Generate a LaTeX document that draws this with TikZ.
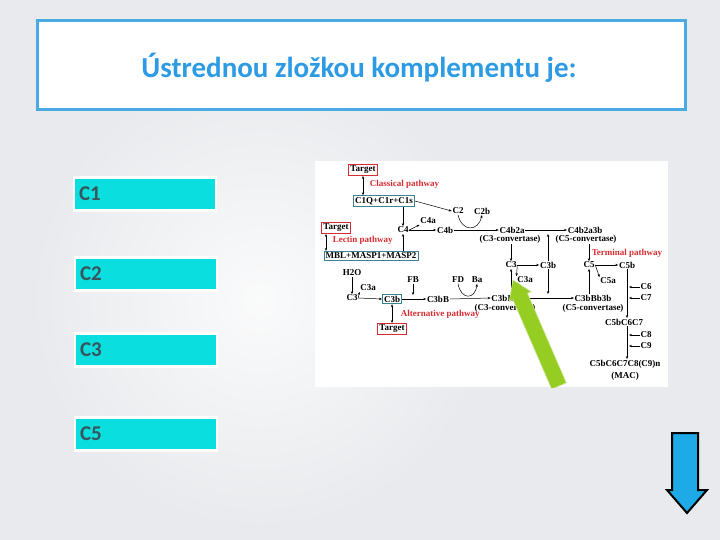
\documentclass[tikz,border=0pt]{standalone}
\usepackage{fontspec}
\setmainfont{Carlito}
\newfontfamily\tms{Liberation Serif}
\usetikzlibrary{arrows.meta}
\definecolor{bgc}{RGB}{232,234,237}
\definecolor{titleblue}{RGB}{45,155,228}
\definecolor{frameblue}{RGB}{75,170,225}
\definecolor{cyanbox}{RGB}{10,222,222}
\definecolor{anstext}{RGB}{55,85,92}
\definecolor{pathred}{RGB}{215,45,50}
\definecolor{boxteal}{RGB}{60,130,150}
\definecolor{greenarrow}{RGB}{150,205,35}
\definecolor{bluearrow}{RGB}{30,170,230}
\begin{document}
\begin{tikzpicture}[x=1pt,y=-1pt,
  lbl/.style={font=\tms\bfseries\fontsize{9}{10}\selectfont, inner sep=0.6pt},
  red/.style={lbl, text=pathred, anchor=west},
  tbox/.style={lbl, draw=pathred, line width=0.8pt, inner sep=1.6pt, fill=white},
  gbox/.style={lbl, draw=boxteal, line width=0.9pt, inner sep=1.6pt, fill=white},
  ar/.style={-{Stealth[length=3pt,width=2.4pt]}, line width=0.5pt},
  dar/.style={{Stealth[length=3pt,width=2.4pt]}-{Stealth[length=3pt,width=2.4pt]}, line width=0.5pt},
  ans/.style={draw=white, line width=2.5pt, fill=cyanbox, text width=132pt, inner xsep=5pt,
    minimum height=33pt, align=left, font=\bfseries\fontsize{21}{22}\selectfont, text=anstext}
]
\useasboundingbox (0,0) rectangle (720,540);
\fill[bgc] (0,0) rectangle (720,540);
\shade[inner color=white!80!bgc, outer color=bgc] (260,300) circle (230);

% title
\node[draw=frameblue, line width=2.5pt, fill=white, minimum width=648pt, minimum height=89pt] (title) at (361.5,65) {};
\node[font=\bfseries\fontsize{29}{32}\selectfont, text=titleblue] (ttext) at (359,68) {Ústrednou zložkou komplementu je:};

% answers
\node[ans] (a1) at (145,194) {C1};
\node[ans] (a2) at (146,274) {C2};
\node[ans] (a3) at (146,350) {C3};
\node[ans] (a5) at (146,434) {C5};

% picture panel
\node[fill=white, minimum width=353pt, minimum height=226pt, inner sep=0] (panel) at (491.5,274) {};

% diagram nodes
\node[tbox] (tgt1) at (363,170) {Target};
\node[red] (cl) at (369,184) {Classical pathway};
\node[gbox] (c1q) at (384,201) {C1Q+C1r+C1s};
\node[lbl] (c2) at (458,211) {C2};
\node[lbl] (c2b) at (482,211) {C2b};
\node[lbl] (c4) at (403,230) {C4};
\node[lbl] (c4a) at (428,221) {C4a};
\node[lbl] (c4b) at (445,230) {C4b};
\node[tbox] (tgt2) at (336,228) {Target};
\node[red] (lec) at (332,240) {Lectin pathway};
\node[gbox] (mbl) at (371,256) {MBL+MASP1+MASP2};
\node[lbl] (c4b2a) at (512,230) {C4b2a};
\node[lbl] (cv3) at (510,239) {(C3-convertase)};
\node[lbl] (c4b2a3b) at (585,230) {C4b2a3b};
\node[lbl] (cv5) at (586,239) {(C5-convertase)};
\node[red] (term) at (591,253) {Terminal pathway};
\node[lbl] (c3r) at (511,265) {C3};
\node[lbl] (c3br) at (548,265) {C3b};
\node[lbl] (c3ar) at (525,280) {C3a};
\node[lbl] (c5) at (589,265) {C5};
\node[lbl] (c5b) at (627,265) {C5b};
\node[lbl] (c5a) at (608,281) {C5a};
\node[lbl] (h2o) at (352,273) {H2O};
\node[lbl] (c3l) at (352,298) {C3};
\node[lbl] (c3al) at (368,288) {C3a};
\node[gbox] (c3bl) at (392,299) {C3b};
\node[tbox] (tgt3) at (392,329) {Target};
\node[red] (alt) at (400,314) {Alternative pathway};
\node[lbl] (fb) at (413,280) {FB};
\node[lbl] (c3bB) at (438,299) {C3bB};
\node[lbl] (fd) at (458,280) {FD};
\node[lbl] (ba) at (477,280) {Ba};
\node[lbl] (c3bBb) at (505,298) {C3bBb};
\node[lbl] (cv3b) at (505,308) {(C3-convertase)};
\node[lbl] (c3bBb3b) at (593,298) {C3bBb3b};
\node[lbl] (cv5b) at (593,308) {(C5-convertase)};
\node[lbl] (c6) at (646,287) {C6};
\node[lbl] (c7) at (646,298) {C7};
\node[lbl] (c567) at (624,322) {C5bC6C7};
\node[lbl] (c8) at (646,335) {C8};
\node[lbl] (c9) at (646,346) {C9};
\node[lbl] (mac1) at (625,364) {C5bC6C7C8(C9)n};
\node[lbl] (mac2) at (625,376) {(MAC)};

% diagram connectors
\draw[dar] (tgt1.south) -- (tgt1.south |- c1q.north);
\draw[ar] (c1q.east) -- (c2.west);
\draw[ar] (c4 |- c1q.south) -- (c4.north);
\draw[ar] (c4.east) -- (c4a.south west);
\draw[ar] (c4.east) -- (c4b.west);
\draw[ar] (c4b.east) -- (c4b2a.west);
\draw[ar] (c2.south) .. controls (462,232) and (478,232) .. (c2b.south);
\draw[dar] (tgt2.south -| lec.west) ++(-6,0) coordinate (l1) -- (l1 |- mbl.north);
\draw[ar] (c4 |- mbl.north) -- (c4.south);
\draw[ar] (h2o.south) -- (c3l.north);
\draw[ar] (c3l.east) -- (c3bl.west);
\draw[ar] (c3l.east) -- (c3al.south west);
\draw[dar] (c3bl.south) -- (tgt3.north);
\draw[ar] (c3bl.east) -- (c3bB.west);
\draw[ar] (fb.south) -- (fb |- c3bB.north);
\draw[ar] (c3bB.east) -- (c3bBb.west);
\draw[ar] (fd.south) .. controls (461,300) and (475,300) .. (ba.south);
\draw[ar] (c4b2a.east) -- (c4b2a3b.west);
\draw[ar] (cv3.south -| c3r) -- (c3r.north);
\draw[ar] (c3r.east) -- (c3br.west);
\draw[ar] (c3r.east) -- (c3ar.north west);
\draw[ar] (c3br.north) -- (c3br |- c4b2a.south);
\draw[ar] (c3bBb.east) -- (c3bBb3b.west);
\draw[ar] (c3br.south) -- (c3br |- c3bBb.north);
\draw[ar] (c3r |- c3bBb.north) -- (c3r.south);
\draw[ar] (c5 |- c3bBb3b.north) -- (c5.south);
\draw[ar] (cv5.south -| c5) -- (c5.north);
\draw[ar] (c5.east) -- (c5b.west);
\draw[ar] (c5.east) -- (c5a.north west);
\draw[ar] (c5b.south) -- (c5b |- c567.north);
\coordinate (vx) at (629,0);
\draw[ar] (c6.west) -- (c6.west -| vx);
\draw[ar] (c7.west) -- (c7.west -| vx);
\draw[ar] (c567.south -| c5b) -- (c5b |- mac1.north);
\draw[ar] (c8.west) -- (c8.west -| vx);
\draw[ar] (c9.west) -- (c9.west -| vx);

% green arrow
\begin{scope}
\clip (panel.north west) rectangle (panel.south east);
\fill[greenarrow, draw=white!55!greenarrow, line width=0.6pt]
  (513,280) -- (531.2,291.7) -- (527.5,293.3) -- (566.3,382.8) -- (551.7,389.2)
  -- (512.9,299.7) -- (509.2,301.3) -- cycle;
\end{scope}

% blue arrow
\draw[fill=bluearrow, draw=black, line width=2pt, line join=miter]
  (672,433) -- (698,433) -- (698,490) -- (707,490) -- (687,513) -- (667,490) -- (672,490) -- cycle;
\end{tikzpicture}
\end{document}
